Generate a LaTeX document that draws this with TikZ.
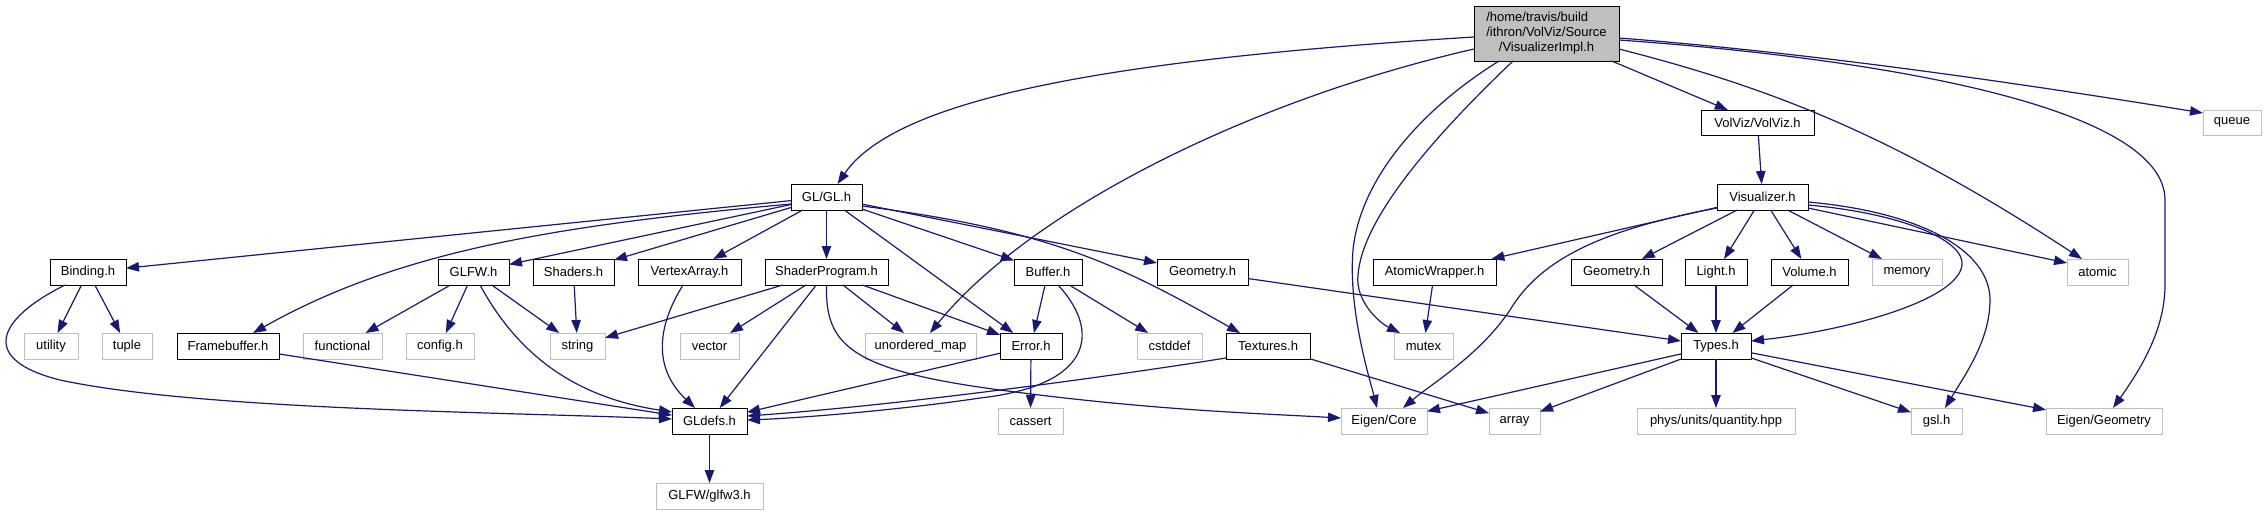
\documentclass[tikz,border=0pt]{standalone}
\usepackage{fontspec}
\setmainfont{Liberation Sans}
\usetikzlibrary{arrows.meta,calc}
\definecolor{edgec}{RGB}{25,25,112}
\definecolor{extc}{RGB}{191,191,191}
\definecolor{mainfill}{RGB}{191,191,191}
\tikzset{
 base/.style={rectangle,inner sep=0pt,outer sep=0pt,line width=0.5pt,fill=white,font=\fontsize{6.5}{7.4}\selectfont},
 intn/.style={base,draw=black},
 extn/.style={base,draw=extc},
 mainn/.style={base,draw=black,fill=mainfill},
 edg/.style={draw=edgec,line width=0.6pt,-{Triangle[length=6.5pt,width=4.7pt]}},
}
\newcommand\nd[7]{%
 \pgfmathsetmacro\ndcx{(#3+#5)/2}%
 \pgfmathsetmacro\ndcy{(#4+#6)/2}%
 \pgfmathsetmacro\ndw{(#5-#3)*0.5}%
 \pgfmathsetmacro\ndh{(#6-#4)*0.5}%
 \node[#1,minimum width=\ndw pt,minimum height=\ndh pt] (#2) at (\ndcx,\ndcy) {#7};}
\begin{document}
\begin{tikzpicture}[x=0.5pt,y=-0.5pt]
\fill[white] (0,0) rectangle (2266,515);
\useasboundingbox (0,0) rectangle (2266,515);
% nodes
\nd{mainn}{M}{1474}{6}{1619}{61}{\begin{tabular}{@{}l@{}}/home/travis/build\\/ithron/VolViz/Source\\\multicolumn{1}{@{}c@{}}{/VisualizerImpl.h}\end{tabular}}
\nd{intn}{G}{791}{184}{862}{210}{GL/GL.h}
\nd{intn}{B}{50}{259}{126}{285}{Binding.h}
\nd{intn}{GF}{438}{259}{509}{285}{GLFW.h}
\nd{intn}{SH}{533}{259}{614}{285}{Shaders.h}
\nd{intn}{VA}{638}{259}{741}{285}{VertexArray.h}
\nd{intn}{SP}{765}{259}{888}{285}{ShaderProgram.h}
\nd{intn}{BU}{1014}{259}{1082}{285}{Buffer.h}
\nd{intn}{GG}{1157}{259}{1248}{285}{Geometry.h}
\nd{intn}{AW}{1373}{259}{1496}{285}{AtomicWrapper.h}
\nd{intn}{VV}{1701}{110}{1814}{135}{VolViz/VolViz.h}
\nd{intn}{VI}{1717}{184}{1808}{210}{Visualizer.h}
\nd{intn}{G2}{1571}{259}{1662}{285}{Geometry.h}
\nd{intn}{LI}{1685}{259}{1747}{285}{Light.h}
\nd{intn}{VO}{1771}{259}{1848}{285}{Volume.h}
\nd{extn}{ME}{1872}{259}{1942}{285}{memory}
\nd{extn}{AT}{2067}{259}{2128}{285}{atomic}
\nd{extn}{Q}{2203}{110}{2261}{135}{queue}
\nd{extn}{UT}{24}{333}{78}{359}{utility}
\nd{extn}{TU}{102}{333}{152}{359}{tuple}
\nd{intn}{FB}{177}{333}{279}{359}{Framebuffer.h}
\nd{extn}{FU}{303}{333}{382}{359}{functional}
\nd{extn}{CO}{406}{333}{474}{359}{config.h}
\nd{extn}{ST}{550}{333}{605}{359}{string}
\nd{extn}{VE}{680}{333}{739}{359}{vector}
\nd{extn}{UM}{865}{333}{976}{359}{unordered\_map}
\nd{intn}{ER}{1000}{333}{1062}{359}{Error.h}
\nd{extn}{CS}{1137}{333}{1202}{359}{cstddef}
\nd{intn}{TX}{1226}{333}{1310}{359}{Textures.h}
\nd{extn}{MU}{1394}{333}{1453}{359}{mutex}
\nd{intn}{TY}{1681}{333}{1751}{359}{Types.h}
\nd{intn}{GD}{672}{408}{747}{434}{GLdefs.h}
\nd{extn}{CA}{998}{408}{1063}{434}{cassert}
\nd{extn}{EC}{1341}{408}{1427}{434}{Eigen/Core}
\nd{extn}{AR}{1489}{408}{1540}{434}{array}
\nd{extn}{QU}{1637}{408}{1795}{434}{phys/units/quantity.hpp}
\nd{extn}{GS}{1911}{408}{1962}{434}{gsl.h}
\nd{extn}{EG}{2046}{408}{2162}{434}{Eigen/Geometry}
\nd{extn}{GL3}{656}{483}{763}{509}{GLFW/glfw3.h}
% edges from main
\draw[edg] (M) -- (VV);
\draw[edg] ($(M.west)+(0,3.5)$) .. controls (1100,60) and (895,100) .. ($(G.north)+(11,0)$);
\draw[edg] ($(M.west)+(0,15.5)$) .. controls (1250,100) and (1030,210) .. ($(UM.north)+(9.5,0)$);
\draw[edg] ($(M.south)+(-47.5,0)$) .. controls (1420,110) and (1360,180) .. (1353,250) .. controls (1348,310) and (1370,380) .. ($(EC.north)+(-7,0)$);
\draw[edg] ($(M.south)+(-33.5,0)$) .. controls (1430,140) and (1362,220) .. (1358,275) .. controls (1355,300) and (1378,322) .. ($(MU.north)+(-23.5,0)$);
\draw[edg] ($(M.east)+(0,15.5)$) .. controls (1780,90) and (1900,140) .. ($(AT.north)+(-15.5,0)$);
\draw[edg] ($(M.east)+(0,4.5)$) .. controls (1800,52) and (2000,80) .. ($(Q.west)+(0,-9.5)$);
\draw[edg] ($(M.east)+(0,6.5)$) .. controls (1900,60) and (2165,110) .. (2165,200) -- (2165,285) .. controls (2165,330) and (2140,370) .. ($(EG.north)+(9,0)$);
% GL/GL.h
\draw[edg] (G) -- (B);
\draw[edg] ($(G.west)+(0,7)$) .. controls (560,225) and (400,250) .. ($(FB.north)+(25,0)$);
\draw[edg] (G) -- (GF);
\draw[edg] (G) -- (SH);
\draw[edg] (G) -- (VA);
\draw[edg] (G) -- (SP);
\draw[edg] (G) -- (ER);
\draw[edg] (G) -- (BU);
\draw[edg] (G) -- (GG);
\draw[edg] ($(G.east)+(0,9)$) .. controls (1050,230) and (1120,265) .. ($(TX.north)+(-28,0)$);
% Binding
\draw[edg] (B) -- (UT);
\draw[edg] (B) -- (TU);
\draw[edg] ($(B.south)+(-23,0)$) .. controls (-5,320) and (-20,360) .. (60,380) .. controls (200,410) and (500,412) .. ($(GD.west)+(0,-2)$);
\draw[edg] (FB) -- (GD);
% GLFW
\draw[edg] (GF) -- (FU);
\draw[edg] (GF) -- (CO);
\draw[edg] (GF) -- (ST);
\draw[edg] ($(GF.south)+(6.5,0)$) .. controls (510,340) and (560,395) .. ($(GD.west)+(0,-9)$);
\draw[edg] (SH) -- (ST);
\draw[edg] ($(VA.south)+(-6.5,0)$) .. controls (655,330) and (655,370) .. ($(GD.north)+(-14.5,0)$);
% ShaderProgram
\draw[edg] (SP) -- (ST);
\draw[edg] (SP) -- (VE);
\draw[edg] (SP) -- (UM);
\draw[edg] (SP) -- (ER);
\draw[edg] (SP) -- (GD);
\draw[edg] (SP.south) .. controls (825,345) and (850,370) .. (1000,390) .. controls (1150,410) and (1250,413) .. ($(EC.west)+(0,-3)$);
% Buffer
\draw[edg] (BU) -- (ER);
\draw[edg] (BU) -- (CS);
\draw[edg] ($(BU.south)+(10,0)$) .. controls (1100,330) and (1095,385) .. (980,398) .. controls (900,410) and (800,418) .. ($(GD.east)+(0,-1)$);
\draw[edg] (ER) -- (CA);
\draw[edg] (ER) -- (GD);
\draw[edg] ($(TX.west)+(0,12)$) .. controls (1100,378) and (900,405) .. ($(GD.east)+(0,-5)$);
\draw[edg] (TX) -- (AR);
\draw[edg] (GG) -- (TY);
\draw[edg] (AW) -- (MU);
\draw[edg] (GD) -- (GL3);
% Visualizer
\draw[edg] (VV) -- (VI);
\draw[edg] (VI) -- (AW);
\draw[edg] (VI) -- (G2);
\draw[edg] (VI) -- (LI);
\draw[edg] (VI) -- (VO);
\draw[edg] (VI) -- (ME);
\draw[edg] ($(VI.east)+(0,11)$) -- ($(AT.west)+(0,-9)$);
\draw[edg] ($(VI.west)+(0,11)$) .. controls (1600,230) and (1540,260) .. (1510,310) .. controls (1480,355) and (1430,385) .. ($(EC.north)+(19,0)$);
\draw[edg] ($(VI.east)+(0,8)$) .. controls (1900,213) and (1965,240) .. (1962,265) .. controls (1958,300) and (1850,330) .. ($(TY.east)+(0,-5)$);
\draw[edg] ($(VI.east)+(0,5)$) .. controls (1920,212) and (1990,250) .. (1990,300) .. controls (1990,340) and (1965,375) .. ($(GS.north)+(8.5,0)$);
\draw[edg] (G2) -- (TY);
\draw[edg] (LI) -- (TY);
\draw[edg] (VO) -- (TY);
% Types
\draw[edg] (TY) -- (EC);
\draw[edg] (TY) -- (AR);
\draw[edg] (TY) -- (QU);
\draw[edg] (TY) -- (GS);
\draw[edg] (TY) -- (EG);
\end{tikzpicture}
\end{document}
